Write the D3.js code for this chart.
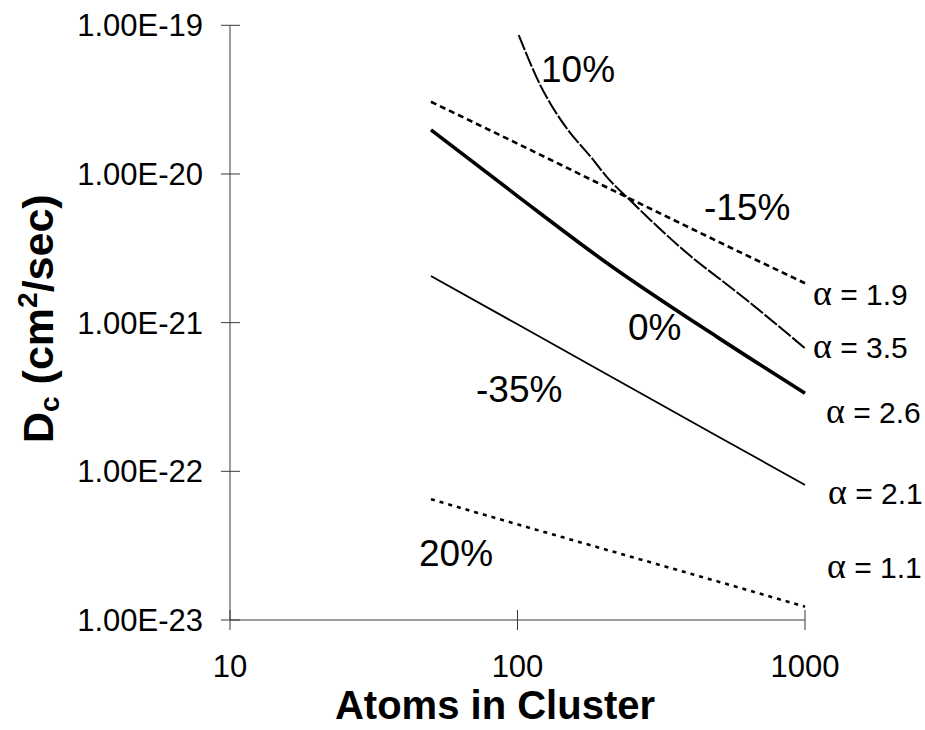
<!DOCTYPE html>
<html>
<head>
<meta charset="utf-8">
<script src="https://cdn.jsdelivr.net/npm/d3@7"></script>
<style>
  body { margin: 0; background: #fff; }
  svg { display: block; font-family: "Liberation Sans", Arial, sans-serif; }
</style>
</head>
<body>
<div id="chart"></div>
<script>
// values (log-log)
const atoms = [50, 100, 200, 500, 1000];
const dcMinus15 = [3.06e-20, 1.60e-20, 8.3e-21, 3.5e-21, 1.84e-21];
const dcZero = [1.98e-20, 7.1e-21, 2.6e-21, 7.9e-22, 3.35e-22];
const dcMinus35 = [2.06e-21, 9.75e-22, 4.6e-22, 1.71e-22, 8.1e-23];
const dcPlus20 = [6.49e-23, 4.4e-23, 3.0e-23, 1.81e-23, 1.23e-23];

// the 10% curve starts later and bends, so it gets its own x list
const atomsPlus10 = [101, 110, 120, 131, 148, 180, 204, 246, 367, 627, 1000];
const dcPlus10 = [8.6e-20, 5.75e-20, 3.96e-20, 2.91e-20, 2.04e-20, 1.30e-20, 9.6e-21, 6.68e-21, 3.23e-21, 1.42e-21, 6.73e-22];

const xTicks = [10, 100, 1000];
const yTicks = [1e-23, 1e-22, 1e-21, 1e-20, 1e-19];
const strainLabels = ['10%', '-15%', '0%', '-35%', '20%'];
const alphaLabels = ['1.9', '3.5', '2.6', '2.1', '1.1'];

const width = 925;
const height = 730;

const svg = d3.select('#chart')
  .append('svg')
  .attr('width', width)
  .attr('height', height);

const xScale = d3.scaleLog()
  .domain([10, 1000])
  .range([230, 805]);

const yScale = d3.scaleLog()
  .domain([1e-23, 1e-19])
  .range([620, 25.3]);

/**
 * axes
 */
const axisColor = '#3a3a3a';

const xAxis = svg.append('g')
  .attr('transform', `translate(0,${yScale(1e-23)})`);
xAxis.append('line')
  .attr('x1', xScale(10)).attr('x2', xScale(1000))
  .attr('stroke', axisColor);
xAxis.selectAll('line.tick')
  .data(xTicks)
  .enter()
    .append('line')
    .attr('class', 'tick')
    .attr('x1', d => xScale(d)).attr('x2', d => xScale(d))
    .attr('y1', -10).attr('y2', 10)
    .attr('stroke', axisColor);
xAxis.selectAll('text')
  .data(xTicks)
  .enter()
    .append('text')
    .attr('x', d => xScale(d))
    .attr('y', 57)
    .attr('text-anchor', 'middle')
    .attr('font-size', 31)
    .text(d => d3.format('d')(d));

const yAxis = svg.append('g')
  .attr('transform', `translate(${xScale(10)},0)`);
yAxis.append('line')
  .attr('y1', yScale(1e-23)).attr('y2', yScale(1e-19))
  .attr('stroke', axisColor);
yAxis.selectAll('line.tick')
  .data(yTicks)
  .enter()
    .append('line')
    .attr('class', 'tick')
    .attr('y1', d => yScale(d)).attr('y2', d => yScale(d))
    .attr('x1', -9).attr('x2', 10)
    .attr('stroke', axisColor);
yAxis.selectAll('text')
  .data(yTicks)
  .enter()
    .append('text')
    .attr('x', -27)
    .attr('y', d => yScale(d))
    .attr('dy', '0.35em')
    .attr('text-anchor', 'end')
    .attr('font-size', 31)
    .text(d => d.toExponential(2).toUpperCase());

/**
 * series
 */
const line = d3.line()
  .x(d => xScale(d[0]))
  .y(d => yScale(d[1]))
  .curve(d3.curveMonotoneX);

const series = [
  { xs: atoms, ys: dcMinus15, width: 2.6, dash: '6,4' },
  { xs: atomsPlus10, ys: dcPlus10, width: 2, dash: '16,2' },
  { xs: atoms, ys: dcZero, width: 3.6, dash: null },
  { xs: atoms, ys: dcMinus35, width: 1.8, dash: null },
  { xs: atoms, ys: dcPlus20, width: 2.6, dash: '4,5' }
];

svg.append('g')
  .attr('class', 'lines')
  .selectAll('path')
  .data(series)
  .enter()
    .append('path')
    .attr('d', s => line(s.xs.map((x, i) => [x, s.ys[i]])))
    .attr('fill', 'none')
    .attr('stroke', '#000')
    .attr('stroke-width', s => s.width)
    .attr('stroke-dasharray', s => s.dash);

/**
 * labels
 */
// baseline positions of the strain labels, in order of strainLabels
const strainPos = [[541, 82], [704, 220], [628, 340], [476, 402], [419, 566]];
svg.append('g')
  .selectAll('text')
  .data(strainLabels)
  .enter()
    .append('text')
    .attr('x', (d, i) => strainPos[i][0])
    .attr('y', (d, i) => strainPos[i][1])
    .attr('font-size', 37)
    .text(d => d);

const alphaPos = [[813, 305], [813, 358], [826, 423], [828, 504], [827, 578]];
const alphaText = svg.append('g')
  .selectAll('text')
  .data(alphaLabels)
  .enter()
    .append('text')
    .attr('x', (d, i) => alphaPos[i][0])
    .attr('y', (d, i) => alphaPos[i][1])
    .attr('font-size', 30);
alphaText.append('tspan')
  .attr('font-family', '"Liberation Serif", "DejaVu Serif", serif')
  .attr('font-size', 36)
  .text('α');
alphaText.append('tspan')
  .text(d => ` = ${d}`);

// axis titles
svg.append('text')
  .attr('x', 495)
  .attr('y', 719)
  .attr('text-anchor', 'middle')
  .attr('font-size', 40)
  .attr('font-weight', 'bold')
  .text('Atoms in Cluster');

const yTitle = svg.append('text')
  .attr('transform', 'translate(53,443) rotate(-90)')
  .attr('font-size', 43)
  .attr('font-weight', 'bold');
yTitle.append('tspan').text('D');
yTitle.append('tspan').attr('font-size', 28).attr('dy', 6).text('c');
yTitle.append('tspan').attr('dy', -6).text(' (cm');
yTitle.append('tspan').attr('font-size', 28).attr('dy', -16).text('2');
yTitle.append('tspan').attr('dy', 16).text('/sec)');
</script>
</body>
</html>
